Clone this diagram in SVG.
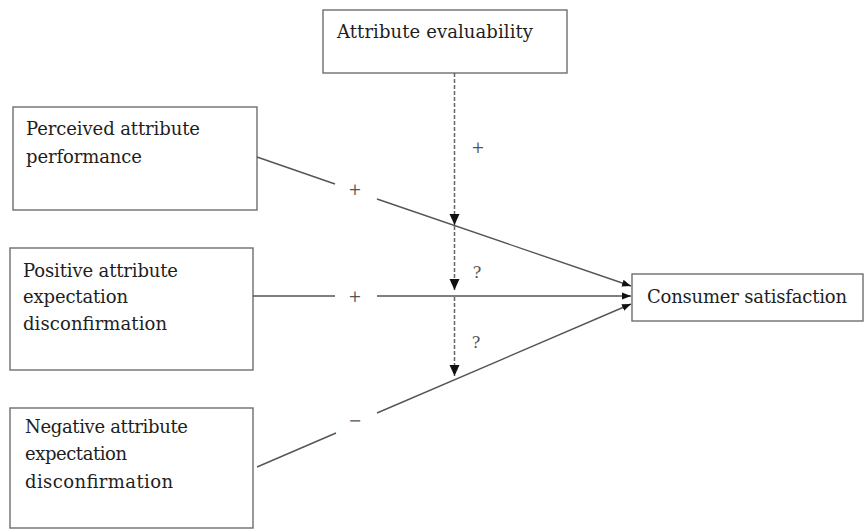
<svg xmlns="http://www.w3.org/2000/svg" width="864" height="529" viewBox="0 0 864 529">
<style>
.box{fill:#fff;stroke:#6e6e6e;stroke-width:1.4}
.t{font-family:"DejaVu Serif","Liberation Serif",serif;font-size:18px;fill:#1e1e1e}
.ln{stroke:#555;stroke-width:1.4;fill:none}
.dl{stroke:#666;stroke-width:1.5;stroke-dasharray:4 2;fill:none}
.lb{font-family:"DejaVu Serif","Liberation Serif",serif;font-size:16px;fill:#555;text-anchor:middle;dominant-baseline:central}
</style>
<defs>
<marker id="ah" markerUnits="userSpaceOnUse" markerWidth="10" markerHeight="8" refX="9" refY="4" orient="auto">
<path d="M0,0.5 L9,4 L0,7.5 z" fill="#111"/>
</marker>
<marker id="dh" markerUnits="userSpaceOnUse" markerWidth="13" markerHeight="12" refX="11" refY="5" orient="auto">
<path d="M0,0 L11,5 L0,10 z" fill="#111"/>
</marker>
</defs>
<rect width="864" height="529" fill="#fff"/>
<g id="attribute-evaluability">
<rect class="box" x="323" y="10" width="244" height="63"/>
<text class="t" x="337" y="38" textLength="196">Attribute evaluability</text>
</g>
<g id="perceived-performance">
<rect class="box" x="13" y="107" width="244" height="103"/>
<text class="t" x="26" y="135" textLength="174">Perceived attribute</text>
<text class="t" x="26" y="163" textLength="116">performance</text>
</g>
<g id="positive-disconfirmation">
<rect class="box" x="10" y="248" width="243" height="122"/>
<text class="t" x="23" y="277" textLength="155">Positive attribute</text>
<text class="t" x="23" y="303" textLength="105">expectation</text>
<text class="t" x="23" y="330" textLength="144">disconfirmation</text>
</g>
<g id="negative-disconfirmation">
<rect class="box" x="10" y="408" width="243" height="120"/>
<text class="t" x="25" y="433" textLength="163">Negative attribute</text>
<text class="t" x="25" y="460" textLength="102">expectation</text>
<text class="t" x="25" y="488" textLength="148">disconfirmation</text>
</g>
<g id="consumer-satisfaction">
<rect class="box" x="632" y="274" width="231" height="47"/>
<text class="t" x="647" y="303" textLength="200">Consumer satisfaction</text>
</g>
<g id="connectors">
<line class="ln" x1="257" y1="157" x2="335" y2="184"/>
<line class="ln" x1="377" y1="199" x2="631" y2="286" marker-end="url(#ah)"/>
<line class="ln" x1="253" y1="296" x2="335" y2="296"/>
<line class="ln" x1="377" y1="296" x2="631" y2="296" marker-end="url(#ah)"/>
<line class="ln" x1="257" y1="467" x2="336" y2="433"/>
<line class="ln" x1="377" y1="413" x2="631" y2="304" marker-end="url(#ah)"/>
<line class="dl" x1="454.5" y1="73" x2="454.5" y2="225" marker-end="url(#dh)"/>
<line class="dl" x1="454.5" y1="226" x2="454.5" y2="290" marker-end="url(#dh)"/>
<line class="dl" x1="454.5" y1="297" x2="454.5" y2="376" marker-end="url(#dh)"/>
<text class="lb" x="355" y="189">+</text>
<text class="lb" x="355" y="296">+</text>
<text class="lb" x="355" y="420">−</text>
<text class="lb" x="478" y="147">+</text>
<text class="lb" x="477" y="272">?</text>
<text class="lb" x="476" y="342">?</text>
</g>
</svg>
